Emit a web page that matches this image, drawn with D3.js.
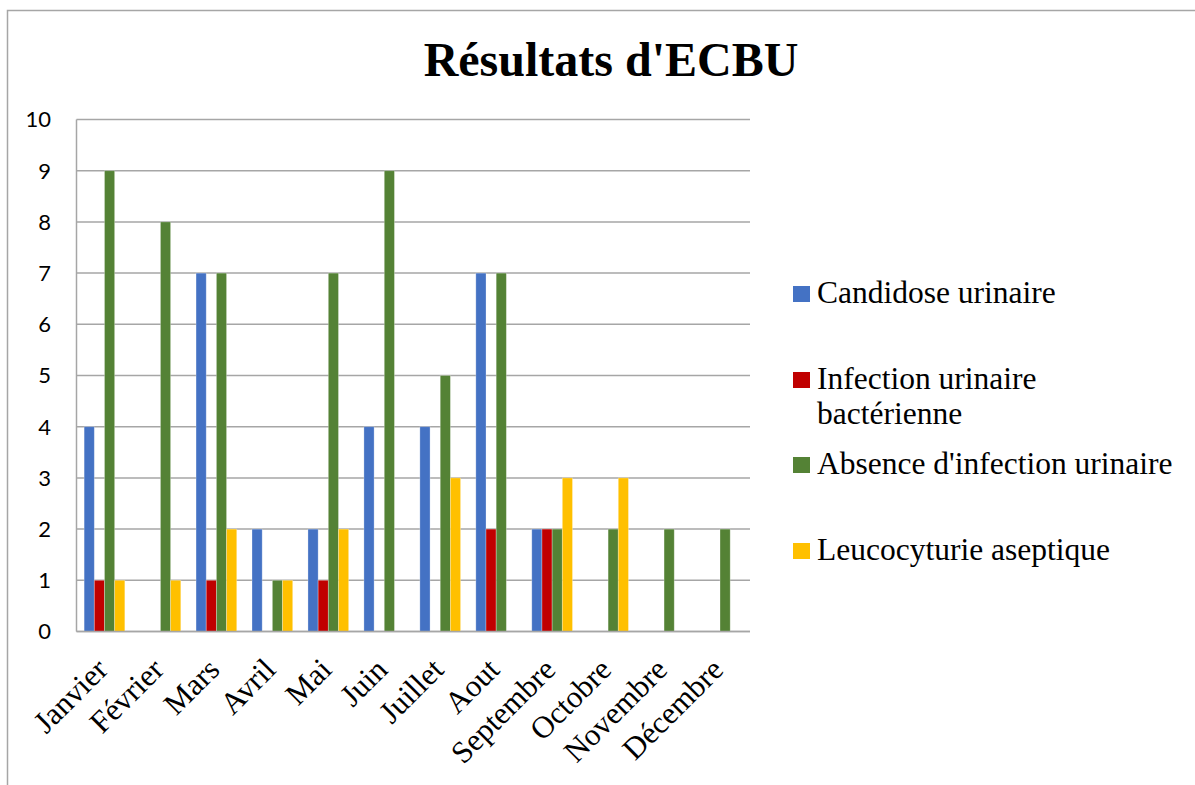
<!DOCTYPE html>
<html>
<head>
<meta charset="utf-8">
<script src="https://cdn.jsdelivr.net/npm/d3@7"></script>
<style>
  html, body { margin: 0; padding: 0; background: #fff; }
  svg { display: block; }
</style>
</head>
<body>
<div id="chart"></div>
<script>
// Monthly ECBU results
const months = ["Janvier", "Février", "Mars", "Avril", "Mai", "Juin", "Juillet", "Aout", "Septembre", "Octobre", "Novembre", "Décembre"];
const seriesNames = ["Candidose urinaire", "Infection urinaire bactérienne", "Absence d'infection urinaire", "Leucocyturie aseptique"];
const candidose = [4, 0, 7, 2, 2, 4, 4, 7, 2, 0, 0, 0];
const infection = [1, 0, 1, 0, 1, 0, 0, 2, 2, 0, 0, 0];
const absence   = [9, 8, 7, 1, 7, 9, 5, 7, 2, 2, 2, 2];
const leuco     = [1, 1, 2, 1, 2, 0, 3, 0, 3, 3, 0, 0];
const yTicks = [0, 1, 2, 3, 4, 5, 6, 7, 8, 9, 10];
const colors = ["#4472C4", "#C00000", "#548235", "#FFC000"];

const seriesValues = [candidose, infection, absence, leuco];
const serif = "'Liberation Serif', 'Times New Roman', serif";

const W = 1195, H = 785;
const svg = d3.select("#chart").append("svg").attr("width", W).attr("height", H);

// chart frame
svg.append("path")
  .attr("d", `M7.5,${H} V10.5 H${W}`)
  .attr("fill", "none").attr("stroke", "#a6a6a6").attr("stroke-width", 1.5);

const plot = { left: 76.5, right: 748, top: 119.5, bottom: 631.5 };

const x = d3.scaleBand().domain(months).range([plot.left, plot.right]).paddingInner(0).paddingOuter(0);
const barW = x.bandwidth() / 5.5;
const x1 = d3.scaleBand().domain(d3.range(4)).range([0, barW * 4]);
const y = d3.scaleLinear().domain([0, 10]).range([plot.bottom, plot.top]);

// gridlines
svg.append("g").selectAll("line").data(yTicks).join("line")
  .attr("x1", plot.left).attr("x2", plot.right + 2)
  .attr("y1", d => y(d)).attr("y2", d => y(d))
  .attr("stroke", "#a6a6a6").attr("stroke-width", 1.5);

// vertical axis line
svg.append("line")
  .attr("x1", plot.left).attr("x2", plot.left)
  .attr("y1", plot.top).attr("y2", plot.bottom)
  .attr("stroke", "#a6a6a6").attr("stroke-width", 1.5);

// y tick labels
svg.append("g").selectAll("text").data(yTicks).join("text")
  .attr("x", 51).attr("y", d => y(d))
  .attr("dy", "0.36em")
  .attr("text-anchor", "end")
  .attr("font-family", "Lato, 'Open Sans', sans-serif")
  .attr("font-size", 22)
  .attr("fill", "#000")
  .text(d => d);

// bars
const groups = svg.append("g").selectAll("g").data(months).join("g")
  .attr("transform", d => `translate(${x(d) + (x.bandwidth() - barW * 4) / 2},0)`);

groups.selectAll("rect")
  .data((m, i) => seriesValues.map((vals, s) => ({ s, v: vals[i] })))
  .join("rect")
  .filter(d => d.v > 0)
  .attr("x", d => x1(d.s))
  .attr("width", x1.bandwidth())
  .attr("y", d => y(d.v))
  .attr("height", d => y(0) - y(d.v))
  .attr("fill", d => colors[d.s])
  .attr("stroke", "rgba(255,255,255,0.35)")
  .attr("stroke-width", 0.8);

// baseline on top of bars
svg.append("line")
  .attr("x1", plot.left).attr("x2", plot.right + 2)
  .attr("y1", y(0)).attr("y2", y(0))
  .attr("stroke", "#a6a6a6").attr("stroke-width", 1.5);

// x labels rotated
svg.append("g").selectAll("text").data(months).join("text")
  .attr("transform", d => `translate(${x(d) + x.bandwidth() / 2 + 5},${plot.bottom + 40}) rotate(-45)`)
  .attr("text-anchor", "end")
  .attr("font-family", serif)
  .attr("font-size", 31)
  .attr("fill", "#000")
  .text(d => d);

// title
svg.append("text")
  .attr("x", 611).attr("y", 76)
  .attr("text-anchor", "middle")
  .attr("font-family", serif)
  .attr("font-weight", "bold")
  .attr("font-size", 48)
  .attr("fill", "#000")
  .text("Résultats d'ECBU");

// legend
const legendItems = [
  { s: 0, lines: ["Candidose urinaire"], y: 294 },
  { s: 1, lines: ["Infection urinaire", "bactérienne"], y: 380 },
  { s: 2, lines: ["Absence d'infection urinaire"], y: 465 },
  { s: 3, lines: ["Leucocyturie aseptique"], y: 551 }
];
const leg = svg.append("g").selectAll("g").data(legendItems).join("g");
leg.append("rect")
  .attr("x", 793).attr("y", d => d.y - 8)
  .attr("width", 17).attr("height", 16)
  .attr("fill", d => colors[d.s]);
leg.append("text")
  .attr("x", 817).attr("y", d => d.y)
  .attr("font-family", serif)
  .attr("font-size", 31.5)
  .attr("fill", "#000")
  .selectAll("tspan").data(d => d.lines).join("tspan")
  .attr("x", 817)
  .attr("dy", (d, i) => i === 0 ? "0.29em" : "1.1em")
  .text(d => d);
</script>
</body>
</html>
